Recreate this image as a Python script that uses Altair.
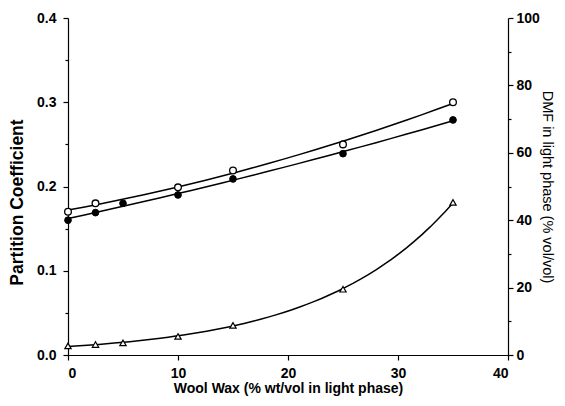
import altair as alt
import pandas as pd

# Wool wax (% wt/vol in light phase)
x_open = [0, 2.5, 10, 15, 25, 35]
pc_open = [0.170, 0.180, 0.199, 0.219, 0.250, 0.300]

x_filled = [0, 2.5, 5, 10, 15, 25, 35]
pc_filled = [0.160, 0.169, 0.180, 0.190, 0.209, 0.239, 0.279]

x_dmf = [0, 2.5, 5, 10, 15, 25, 35]
dmf = [2.7, 3.1, 3.6, 5.5, 8.8, 19.5, 45.3]

df_open = pd.DataFrame({"x": x_open, "pc": pc_open})
df_filled = pd.DataFrame({"x": x_filled, "pc": pc_filled})
df_dmf = pd.DataFrame({"x": x_dmf, "dmf": dmf})

FONT = "Liberation Sans"

x_enc = alt.X(
    "x:Q",
    scale=alt.Scale(domain=[0, 40], nice=False),
    axis=alt.Axis(
        values=[0, 10, 20, 30, 40],
        title="Wool Wax (% wt/vol in light phase)",
        tickSize=5,
        labelPadding=6,
        titlePadding=1,
        titleFontSize=14,
        format="d",
    ),
)

left_vals = [round(i * 0.05, 2) for i in range(9)]
major_left = "round(datum.value*100) % 10 == 0"
y_left = alt.Y(
    "pc:Q",
    scale=alt.Scale(domain=[0, 0.4], nice=False),
    axis=alt.Axis(
        values=left_vals,
        title="Partition Coefficient",
        labelExpr=major_left + " ? format(datum.value, '.1f') : ''",
        tickSize={"condition": {"test": major_left, "value": 5}, "value": 3},
        labelPadding=7,
        titlePadding=10,
        titleFontSize=17.5,
        titleY=184,
    ),
)

right_vals = list(range(0, 101, 10))
major_right = "datum.value % 20 == 0"
y_right = alt.Y(
    "dmf:Q",
    scale=alt.Scale(domain=[0, 100], nice=False),
    axis=alt.Axis(
        orient="right",
        values=right_vals,
        title="DMF in light phase (% vol/vol)",
        labelExpr=major_right + " ? format(datum.value, 'd') : ''",
        tickSize={"condition": {"test": major_right, "value": 5}, "value": 3},
        labelPadding=3,
        titleX=31,
        titleFontWeight="normal",
        titleFontSize=14.5,
    ),
)

line_kw = dict(color="black", strokeWidth=1.5)

open_line = alt.Chart(df_open).transform_regression(
    "x", "pc", method="poly", order=2, extent=[0, 35]
).mark_line(**line_kw).encode(x=x_enc, y=y_left)
open_pts = alt.Chart(df_open).mark_point(
    shape="circle", filled=True, fill="white", stroke="black", strokeWidth=1.3, size=45, opacity=1
).encode(x=x_enc, y=y_left)

filled_line = alt.Chart(df_filled).transform_regression(
    "x", "pc", method="poly", order=2, extent=[0, 35]
).mark_line(**line_kw).encode(x=x_enc, y=y_left)
filled_pts = alt.Chart(df_filled).mark_point(
    shape="circle", filled=True, fill="black", stroke="black", strokeWidth=1, size=45, opacity=1
).encode(x=x_enc, y=y_left)

dmf_line = alt.Chart(df_dmf).transform_regression(
    "x", "dmf", method="exp", extent=[0, 35]
).mark_line(**line_kw).encode(x=x_enc, y=y_right)
dmf_pts = alt.Chart(df_dmf).mark_point(
    shape="triangle-up", filled=True, fill="white", stroke="black", strokeWidth=1.2, size=40, opacity=1
).encode(x=x_enc, y=y_right)

left = alt.layer(open_line, filled_line, open_pts, filled_pts)
right = alt.layer(dmf_line, dmf_pts)

chart = (
    alt.layer(left, right)
    .resolve_scale(y="independent")
    .properties(
        width=440,
        height=337,
        autosize=alt.AutoSizeParams(type="none"),
        padding={"left": 60, "top": 10, "right": 49, "bottom": 43},
    )
    .configure_view(stroke=None)
    .configure_axis(
        grid=False,
        domainColor="black",
        domainWidth=1.2,
        tickColor="black",
        tickWidth=1.2,
        labelFont=FONT,
        labelFontSize=14,
        labelFontWeight="bold",
        labelColor="black",
        titleFont=FONT,
        titleFontWeight="bold",
        titleColor="black",
    )
)

chart.save("out.html", embed_options={"renderer": "svg", "actions": False})
